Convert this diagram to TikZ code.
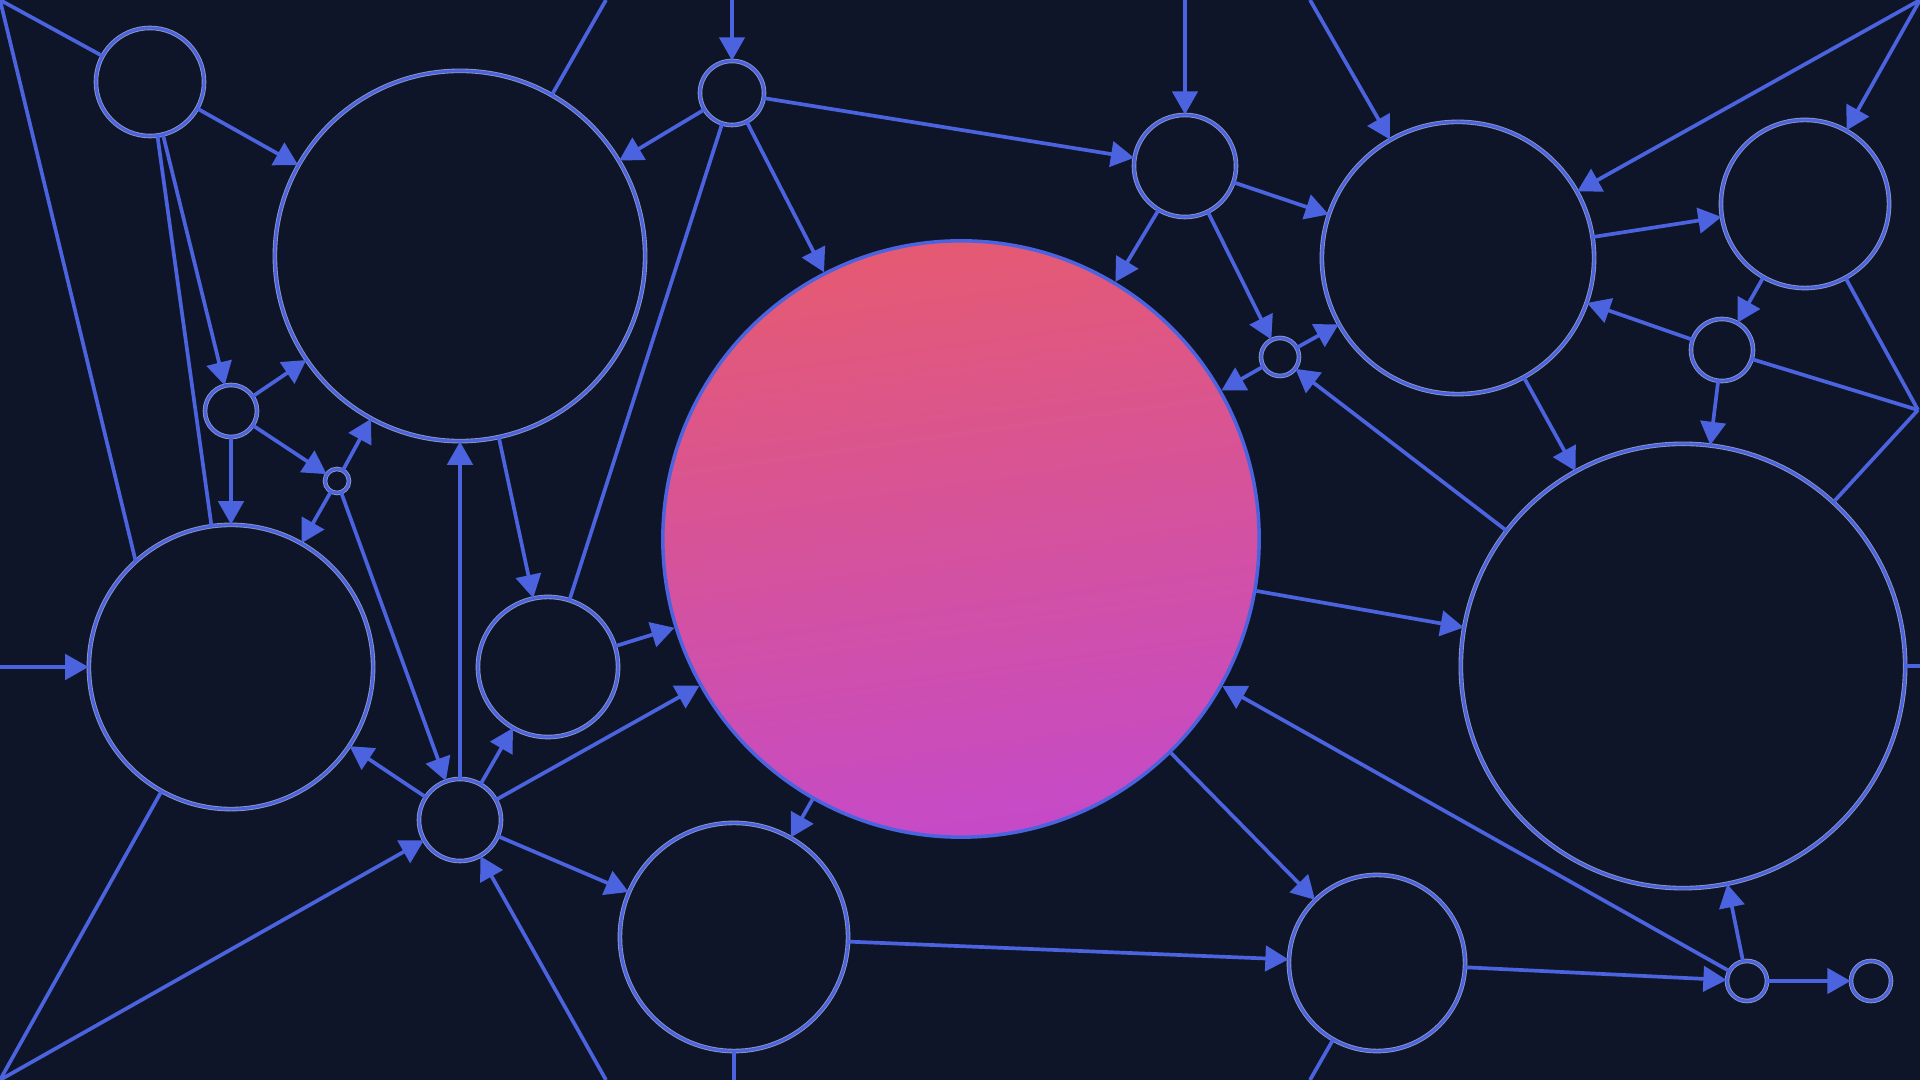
\documentclass[tikz,border=0pt]{standalone}
\usetikzlibrary{arrows.meta}

\definecolor{bgnavy}{HTML}{0F1528}
\definecolor{edgeblue}{HTML}{4B63DF}
\definecolor{halo}{HTML}{8E96C4}
\definecolor{pinktop}{HTML}{E55A72}
\definecolor{pinkmid}{HTML}{D9529C}
\definecolor{pinkbot}{HTML}{C54AC8}

\tikzset{
  nd/.style={circle,draw=halo,double=edgeblue,line width=0.25pt,double distance=0.8pt,
    inner sep=0pt,minimum size=#1*0.02cm},
  arr/.style={edgeblue,line width=1.05pt,-{Triangle[length=6.6pt,width=7.2pt]}},
  ln/.style={edgeblue,line width=1.05pt}
}

\begin{document}
\begin{tikzpicture}[x=0.01cm,y=-0.01cm]
  \fill[bgnavy] (0,0) rectangle (1920,1080);
  \useasboundingbox (0,0) rectangle (1920,1080);

  % circles
  \node[nd=54] (a) at (150,82) {};
  \node[nd=185] (b) at (460,256) {};
  \node[nd=32] (c) at (732,93) {};
  \node[nd=26] (d) at (231,411) {};
  \node[nd=12] (e) at (337,481) {};
  \node[nd=142] (f) at (231,667) {};
  \node[nd=70] (g) at (548,667) {};
  \node[nd=41] (h) at (460,820) {};
  \node[nd=114] (i) at (734,937) {};
  \node[circle,inner sep=0pt,minimum size=5.96cm,draw=edgeblue,line width=1pt,
    top color=pinktop,middle color=pinkmid,bottom color=pinkbot,shading angle=8] (j) at (961,539) {};
  \node[nd=51] (k) at (1185,166) {};
  \node[nd=19] (l) at (1280,357) {};
  \node[nd=136] (m) at (1458,258) {};
  \node[nd=84] (n) at (1805,204) {};
  \node[nd=31] (o) at (1722,350) {};
  \node[nd=222] (p) at (1683,666) {};
  \node[nd=88] (q) at (1377,963) {};
  \node[nd=20] (r) at (1747,981) {};
  \node[nd=20] (s) at (1871,981) {};

  % loose ends at the border
  \coordinate (tl) at (0,0);
  \coordinate (tr) at (1920,0);
  \coordinate (bl) at (0,1080);
  \coordinate (tb) at (606,0);
  \coordinate (tc) at (732,0);
  \coordinate (tk) at (1185,0);
  \coordinate (tm) at (1310,0);
  \coordinate (lf) at (0,667);
  \coordinate (rp) at (1920,666);
  \coordinate (rr) at (1918,410);
  \coordinate (bh) at (606,1080);
  \coordinate (bi) at (734,1080);
  \coordinate (bq) at (1310,1080);

  % plain lines
  \foreach \u/\v in {tl/a,tl/f.132,a/f,b/tb,c/g,bl/f,i/bi,q/bq,p/rp,o/rr,n/rr,p/rr}
    \draw[ln] (\u) -- (\v);

  % arrows
  \foreach \u/\v in {tc/c,c/b,c/j,c/k,a/b,a/d,d/b,d/f,d/e,e/b,e/f,e/h,h/b,b/g,g/j,h/g,
      h/f,h/j,h/i,bl/h,bh/h,lf/f,j/i,i/q,j/q,q/r,r/j,r/p,r/s,j/p,p/l,l/j,l/m,k/l,k/j,
      k/m,tk/k,tm/m,tr/m,tr/n,m/n,n/o,o/m,o/p,m/p}
    \draw[arr] (\u) -- (\v);
\end{tikzpicture}
\end{document}
